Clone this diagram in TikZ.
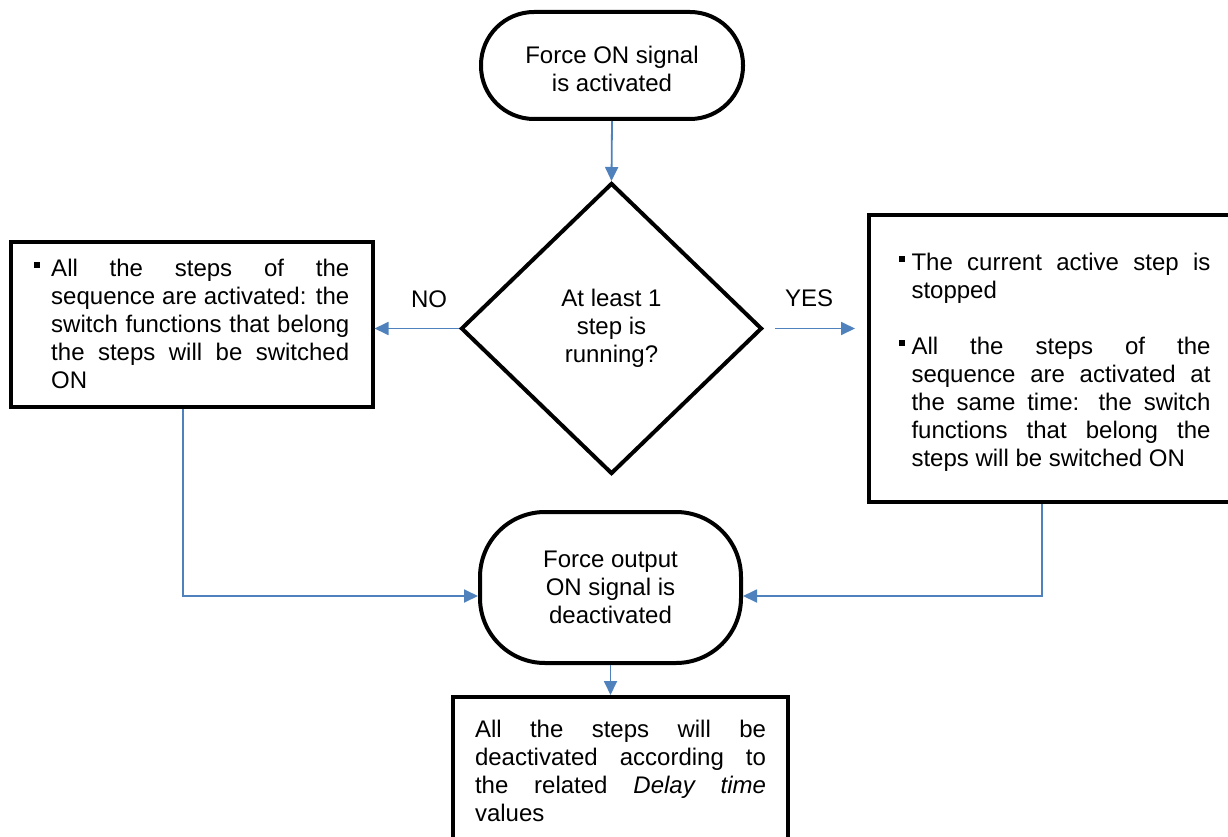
\documentclass[tikz,border=0pt]{standalone}
\usepackage{fontspec}
\setmainfont{Liberation Sans}
\usetikzlibrary{shapes.geometric,arrows.meta}
\definecolor{connblue}{RGB}{79,129,189}
\newcommand{\bulitem}[2]{\hangindent=#1\hangafter=1\noindent\makebox[#1][l]{\rule[9pt]{6pt}{6pt}}#2\par}
\begin{document}
\begin{tikzpicture}[x=1pt,y=-1pt,
  every node/.style={font=\fontsize{24}{28}\selectfont},
  termbox/.style={draw=black,line width=4pt,inner sep=0pt,align=center},
  procbox/.style={draw=black,line width=4pt,inner sep=0pt},
  decbox/.style={diamond,draw=black,line width=4pt,line join=miter,inner sep=0pt,align=center},
  conn/.style={draw=connblue,line width=1.8pt,-{Triangle[length=14pt,width=13pt]}},
  lbl/.style={inner sep=0pt}
]
\useasboundingbox (0,0) rectangle (1228,837);

\node[termbox,minimum width=262pt,minimum height=107pt,rounded corners=53pt] (t1) at (612,65.5)
  {\rule{0pt}{24.5pt}Force ON signal\\is activated};

\node[decbox,minimum width=301pt,minimum height=291pt] (dia) at (611.5,328.5)
  {At least 1\\step is\\running?};

\node[procbox,minimum width=361.5pt,minimum height=164.5pt] (left) at (191.75,324.25)
  {\parbox{315pt}{\bulitem{17pt}{All the steps of the\linebreak sequence are activated: the\linebreak switch functions that belong\linebreak the steps will be switched\linebreak ON}}};

\node[procbox,minimum width=371pt,minimum height=287pt] (right) at (1054.5,358.5)
  {\parbox{312pt}{\bulitem{13pt}{\rule{0pt}{25.5pt}The current active step is\linebreak stopped}\vskip 28pt
  \bulitem{13pt}{All the steps of the\linebreak sequence are activated at\linebreak the same time: the switch\linebreak functions that belong the\linebreak steps will be switched ON}}};

\node[termbox,minimum width=261pt,minimum height=151pt,rounded corners=65pt] (t2) at (610.5,587.5)
  {Force output\\ON signal is\\deactivated};

\node[procbox,anchor=north,inner xsep=22pt,inner ysep=23pt] (bot) at (620.5,695)
  {\parbox[t][160pt][t]{291pt}{All the steps will be\linebreak deactivated according to\linebreak the related \textit{Delay time}\linebreak values}};

\node[lbl] (no) at (429,299) {NO};
\node[lbl] (yes) at (809,298) {YES};

\coordinate (lj) at (183,596);
\coordinate (rj) at (1042,596);

\draw[conn] (t1.south) -- (dia.north);
\draw[conn] (dia.west) -- (dia.west -| left.east);
\draw[conn] ([xshift=11pt]dia.east) -- ([xshift=-12pt]dia.east -| right.west);
\draw[conn] (left.south -| lj) -- (lj) -- (t2.west |- lj);
\draw[conn] (right.south -| rj) -- (rj) -- (t2.east |- rj);
\draw[conn] (t2.south) -- (t2.south |- bot.north);
\end{tikzpicture}
\end{document}
